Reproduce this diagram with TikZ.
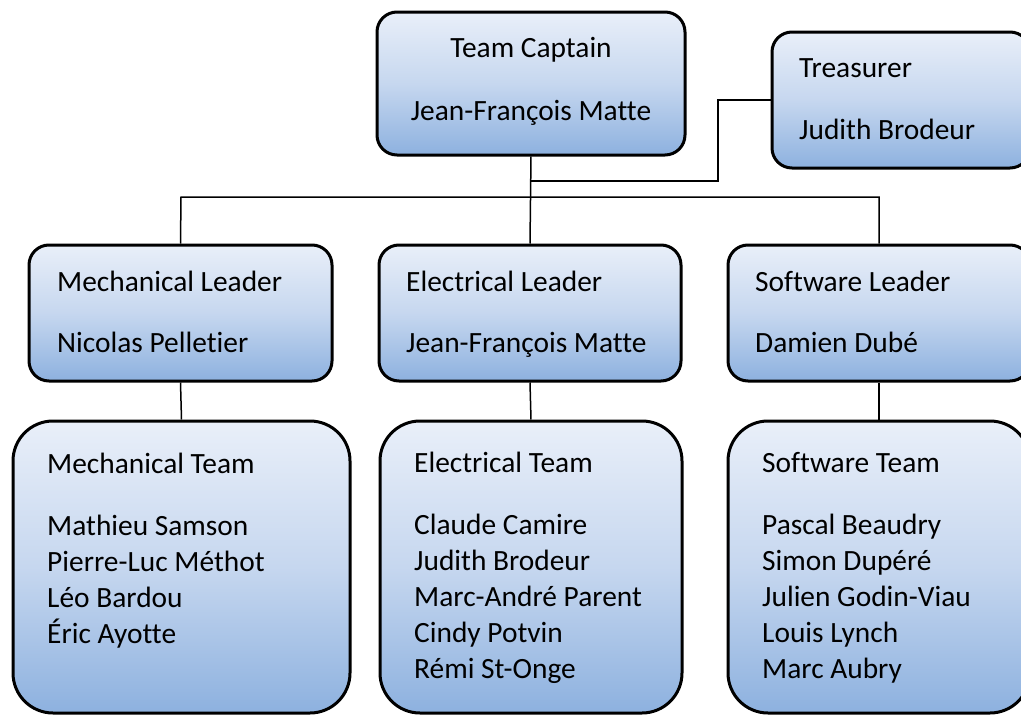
\documentclass[tikz,border=0pt]{standalone}
\usepackage{fontspec}
\setmainfont{Carlito}[Ligatures={NoCommon,NoContextual},RawFeature={-liga;-clig;-calt}]
\definecolor{gtop}{RGB}{233,239,249}
\definecolor{gmid}{RGB}{198,215,239}
\definecolor{gbot}{RGB}{141,177,223}
\tikzset{
  box/.style={draw=black, line width=3pt, rounded corners=20pt, top color=gtop, bottom color=gbot, middle color=gmid, inner sep=0pt},
  teambox/.style={box, rounded corners=40pt},
  txt/.style={anchor=base west, align=left, inner sep=0pt, font=\fontsize{29.4}{36}\selectfont},
  ctxt/.style={anchor=base, align=center, inner sep=0pt, font=\fontsize{29.4}{36}\selectfont},
  conn/.style={line width=1.5pt}
}
\begin{document}
\begin{tikzpicture}[x=1pt,y=-1pt]
\useasboundingbox (0,0) rectangle (1021,715);
% boxes
\node[box, minimum width=308pt, minimum height=143pt] (cap) at (531,83.5) {};
\node[box, minimum width=258pt, minimum height=136pt] (tre) at (901,100) {};
\node[box, minimum width=303pt, minimum height=136pt] (ml) at (180.5,313) {};
\node[box, minimum width=302pt, minimum height=136pt] (el) at (530,313) {};
\node[box, minimum width=302pt, minimum height=136pt] (sl) at (879,313) {};
\node[teambox, minimum width=337pt, minimum height=292pt] (mt) at (181.5,567) {};
\node[teambox, minimum width=302pt, minimum height=292pt] (et) at (531,567) {};
\node[teambox, minimum width=302pt, minimum height=292pt] (st) at (879,567) {};
% connectors
\coordinate (hl) at (181,197);
\coordinate (hr) at (879,197);
\coordinate (tj) at (531,181);
\draw[conn] (cap.south) -- (el.north);
\draw[conn] (ml.north) -- (hl) -- (hr) -- (sl.north);
\draw[conn] (tre.west) -| (718,181) -- (tj);
\draw[conn] (ml.south) -- (mt.north);
\draw[conn] (el.south) -- (et.north);
\draw[conn] (sl.south) -- (st.north);
% texts (anchored at the baseline of their last line)
\node[ctxt] (capt) at (531,120) {Team Captain\\[27pt]Jean-François Matte};
\node[txt] (tret) at (799,139) {Treasurer\\[26pt]Judith Brodeur};
\node[txt] (mlt) at (57,352) {Mechanical Leader\\[25pt]Nicolas Pelletier};
\node[txt] (elt) at (406,352) {Electrical Leader\\[25pt]Jean-François Matte};
\node[txt] (slt) at (755,352) {Software Leader\\[25pt]Damien Dubé};
\node[txt] (mtt) at (47,643) {Mechanical Team\\[26pt]Mathieu Samson\\Pierre-Luc Méthot\\Léo Bardou\\Éric Ayotte};
\node[txt] (ett) at (414,678) {Electrical Team\\[26pt]Claude Camire\\Judith Brodeur\\Marc-André Parent\\Cindy Potvin\\Rémi St-Onge};
\node[txt] (stt) at (762,678) {Software Team\\[26pt]Pascal Beaudry\\Simon Dupéré\\Julien Godin-Viau\\Louis Lynch\\Marc Aubry};
\end{tikzpicture}
\end{document}
